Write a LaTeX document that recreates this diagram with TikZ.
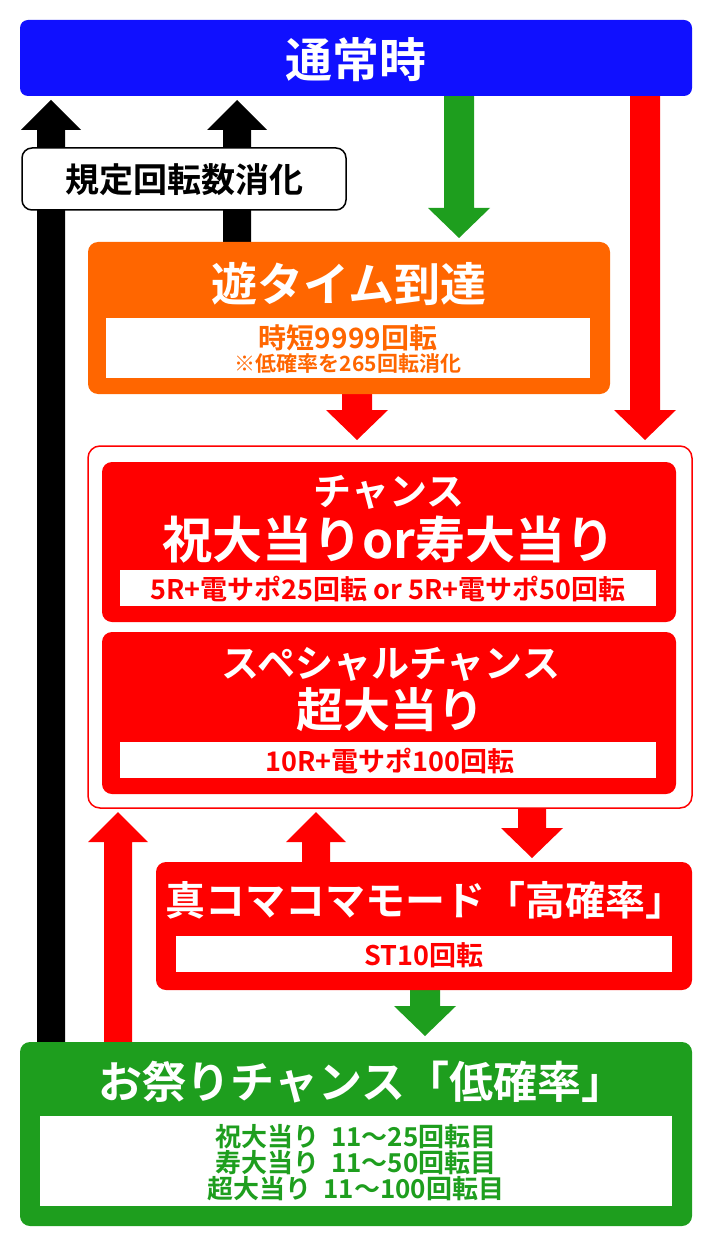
\documentclass[tikz,border=0pt]{standalone}
\usepackage{fontspec}
\setmainfont{Noto Sans CJK JP}[BoldFont={Noto Sans CJK JP Bold}]
\definecolor{cblue}{HTML}{1010FF}
\definecolor{corange}{HTML}{FF6600}
\definecolor{cred}{HTML}{FF0000}
\definecolor{cgreen}{HTML}{1E9E1E}
\tikzset{
 ttl/.style={text=white,font=\bfseries,inner sep=0pt},
 sub/.style={inner sep=0pt},
}
\newcommand{\fs}[1]{\bfseries\fontsize{#1}{#1}\selectfont}
\newcommand{\uparr}[5]{%
 \fill[#4] (#1-#5,#2) -- (#1-#5,#3+30) -- (#1-30,#3+30) -- (#1,#3) -- (#1+30,#3+30) -- (#1+#5,#3+30) -- (#1+#5,#2) -- cycle;}
\newcommand{\downarr}[5]{%
 \fill[#4] (#1-#5,#2) -- (#1-#5,#3-30) -- (#1-31,#3-30) -- (#1,#3) -- (#1+31,#3-30) -- (#1+#5,#3-30) -- (#1+#5,#2) -- cycle;}
\begin{document}
\begin{tikzpicture}[x=1pt,y=-1pt]
\useasboundingbox (0,0) rectangle (712,1246);
% arrows
\uparr{51}{1045}{100}{black}{14}
\uparr{237}{245}{100}{black}{14}
\downarr{459}{90}{238}{cgreen}{15}
\downarr{645}{90}{440}{cred}{15}
\downarr{357}{390}{440}{cred}{15}
\uparr{118}{1045}{812}{cred}{14}
\uparr{316}{865}{812}{cred}{14}
\downarr{532}{805}{858}{cred}{14}
\downarr{425}{985}{1036}{cgreen}{15}
% top
\fill[cblue,rounded corners=8pt] (20,20) rectangle (692,96);
\node[ttl,font=\fs{47}] (top) at (356,60) {通常時};
\draw[line width=1.5pt,fill=white,rounded corners=10pt] (22,148) rectangle (346,210);
\node[sub,font=\fs{34}] (kitei) at (184,180) {規定回転数消化};
% orange
\fill[corange,rounded corners=10pt] (88,242) rectangle (610,394);
\node[ttl,font=\fs{46}] (yu) at (349,284) {遊タイム到達};
\fill[white] (106,318) rectangle (590,378);
\node[sub,text=corange,font=\fs{28}] (j1) at (348,338) {時短9999回転};
\node[sub,text=corange,font=\fs{21}] (j2) at (348,364) {※低確率を265回転消化};
% container
\draw[cred,line width=1.5pt,fill=white,rounded corners=12pt] (88,446) rectangle (692,808);
\fill[cred,rounded corners=10pt] (102,462) rectangle (676,622);
\node[ttl,font=\fs{38}] (c1) at (389,492) {チャンス};
\node[ttl,font=\fs{50}] (c2) at (389,540) {祝大当りor寿大当り};
\fill[white] (120,570) rectangle (656,606);
\node[sub,text=cred,font=\fs{27}] (c3) at (388,589) {5R+電サポ25回転 or 5R+電サポ50回転};
\fill[cred,rounded corners=10pt] (102,632) rectangle (676,794);
\node[ttl,font=\fs{38}] (s1) at (391,664) {スペシャルチャンス};
\node[ttl,font=\fs{47}] (s2) at (390,710) {超大当り};
\fill[white] (120,742) rectangle (656,778);
\node[sub,text=cred,font=\fs{27}] (s3) at (390,761) {10R+電サポ100回転};
% red mode
\fill[cred,rounded corners=10pt] (156,862) rectangle (692,990);
\node[ttl,font=\fs{40}] (m1) at (425,900) {真コマコマモード「高確率」};
\fill[white] (176,936) rectangle (672,972);
\node[sub,text=cred,font=\fs{27}] (m2) at (424,955) {ST10回転};
% green
\fill[cgreen,rounded corners=10pt] (20,1042) rectangle (692,1226);
\node[ttl,font=\fs{44}] (g1) at (362,1082) {お祭りチャンス「低確率」};
\fill[white] (40,1116) rectangle (672,1206);
\node[sub,text=cgreen,font=\bfseries\fontsize{26}{26}\selectfont,align=center] (g2) at (356,1163) {祝大当り\ \ 11～25回転目\\寿大当り\ \ 11～50回転目\\超大当り\ \ 11～100回転目};
\end{tikzpicture}
\end{document}
